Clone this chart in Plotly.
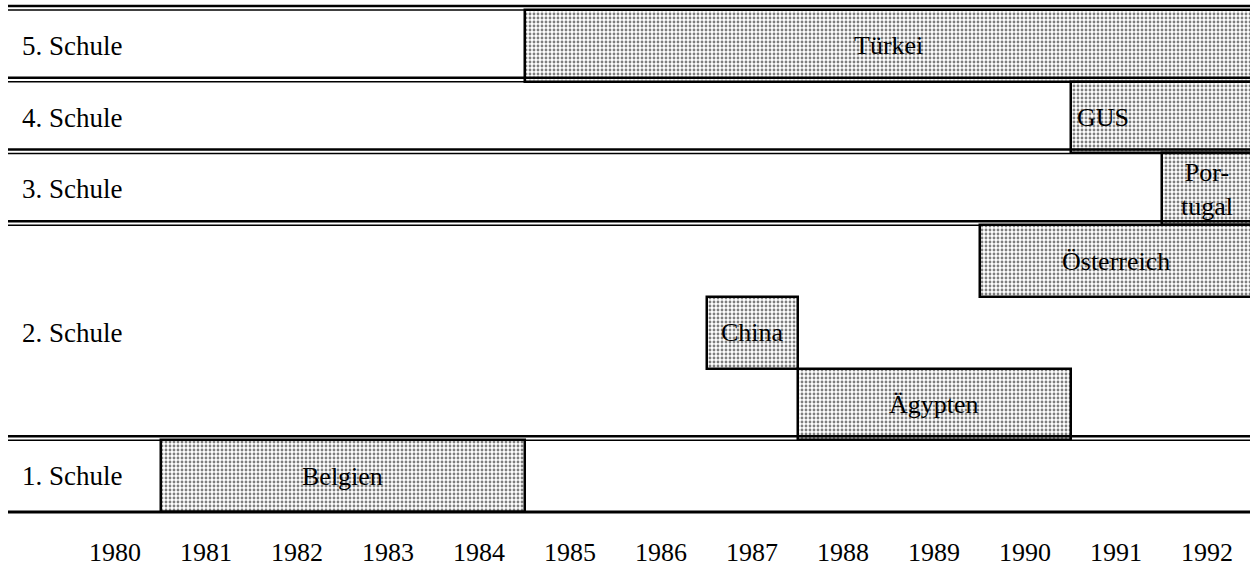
import plotly.graph_objects as go

# ---- data ----
school_labels = ["5. Schule", "4. Schule", "3. Schule", "2. Schule", "1. Schule"]
school_centers = [6.5, 5.5, 4.5, 2.5, 0.5]          # lane units
row_boundaries = [7, 6, 5, 4, 1]                      # double lines
bottom_boundary = 0

countries = ["Türkei", "GUS", "Por-<br>tugal", "Österreich", "China", "Ägypten", "Belgien"]
start_years = [1985, 1991, 1992, 1990, 1987, 1988, 1981]
end_years = [1992, 1992, 1992, 1992, 1987, 1990, 1984]
lane_centers = [6.5, 5.5, 4.5, 3.5, 2.5, 1.5, 0.5]
label_align = ["center", "left", "center", "center", "center", "center", "center"]

years = list(range(1980, 1993))
year_labels = [str(y) for y in years]

FONT = "Liberation Serif, Times New Roman, serif"
FS = 26
FS_ROW = 27

x_left = 1980 - 115 / 91
x_right = 1980 + (1250 - 115) / 91
px_per_lane = 502 / 7
y_top = 7 + 10 / px_per_lane
MB = 52
y_bottom = -(577 - MB - 512) / px_per_lane

fig = go.Figure()

bases = [s - 0.5 for s in start_years]
lengths = [e - s + 1 for s, e in zip(start_years, end_years)]

fig.add_trace(go.Bar(
    orientation="h",
    base=bases,
    x=lengths,
    y=lane_centers,
    width=[1] * len(lane_centers),
    marker=dict(
        color="white",
        pattern=dict(shape=".", size=4, solidity=0.4, fgcolor="black", bgcolor="white", fillmode="overlay"),
        line=dict(color="black", width=2.5),
    ),
    hoverinfo="skip",
    showlegend=False,
))

annotations = []
for c, s, e, lc, al in zip(countries, start_years, end_years, lane_centers, label_align):
    if al == "left":
        annotations.append(dict(x=s - 0.5 + 0.05, y=lc, xref="x", yref="y", text=c, showarrow=False,
                                xanchor="left", yanchor="middle",
                                font=dict(family=FONT, size=FS, color="black")))
    else:
        annotations.append(dict(x=(s + e) / 2, y=lc, xref="x", yref="y", text=c, showarrow=False,
                                xanchor="center", yanchor="middle", align="center",
                                font=dict(family=FONT, size=FS, color="black")))

for lab, yc in zip(school_labels, school_centers):
    annotations.append(dict(x=x_left + 20 / 91, y=yc, xref="x", yref="y", text=lab, showarrow=False,
                            xanchor="left", yanchor="middle",
                            font=dict(family=FONT, size=FS_ROW, color="black")))

shapes = []
line_x0 = x_left + 8 / 91
for b in row_boundaries:
    shapes.append(dict(type="line", xref="x", yref="y", x0=line_x0, x1=x_right, y0=b, y1=b,
                       line=dict(color="black", width=1.5)))
    shapes.append(dict(type="line", xref="x", yref="y", ysizemode="pixel", yanchor=b,
                       x0=line_x0, x1=x_right, y0=4, y1=4,
                       line=dict(color="black", width=2.5)))
shapes.append(dict(type="line", xref="x", yref="y", x0=line_x0, x1=x_right,
                   y0=bottom_boundary, y1=bottom_boundary,
                   line=dict(color="black", width=3)))

fig.update_layout(
    width=1250, height=577,
    margin=dict(l=0, r=0, t=0, b=MB),
    paper_bgcolor="white", plot_bgcolor="white",
    annotations=annotations,
    shapes=shapes,
    bargap=0,
    xaxis=dict(range=[x_left, x_right], tickvals=years, ticktext=year_labels,
               showgrid=False, zeroline=False, showline=False,
               ticks="outside", ticklen=4, tickcolor="rgba(0,0,0,0)",
               tickfont=dict(family=FONT, size=FS, color="black"), fixedrange=True),
    yaxis=dict(range=[y_bottom, y_top], showgrid=False, zeroline=False, showline=False,
               showticklabels=False, fixedrange=True),
)

fig.write_html("out.html", config={"displayModeBar": False},
               post_script="document.body.style.margin='0';document.body.style.overflow='hidden';")
